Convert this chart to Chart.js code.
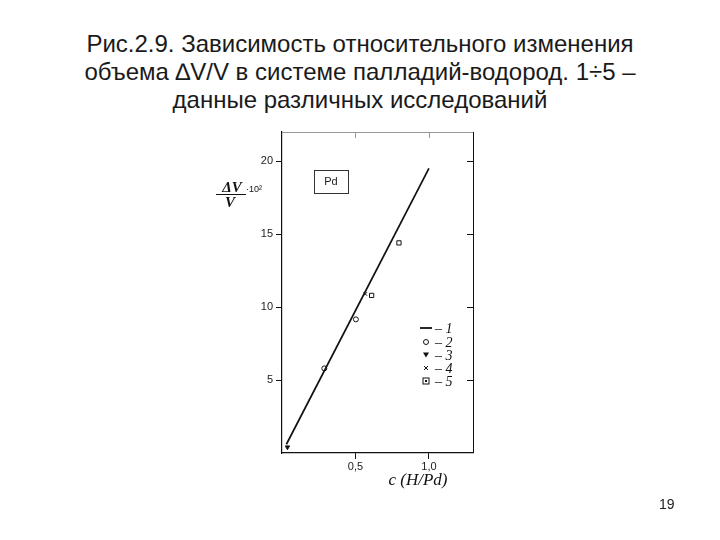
<!DOCTYPE html>
<html>
<head>
<meta charset="utf-8">
<script src="https://cdn.jsdelivr.net/npm/chart.js@4.4.1/dist/chart.umd.min.js"></script>
<style>
  html, body { margin: 0; padding: 0; background: #fff; }
  #wrap { position: relative; width: 720px; height: 540px; overflow: hidden; }
  #title {
    position: absolute; left: 0; top: 30px; width: 720px;
    text-align: center; font-family: "Liberation Sans", Arial, sans-serif;
    font-size: 24px; line-height: 28px; color: #1a1a1a;
  }
  #page {
    position: absolute; left: 659px; top: 496px;
    font-family: "Liberation Sans", Arial, sans-serif; font-size: 14px; color: #222;
  }
  canvas { position: absolute; left: 0; top: 0; }
</style>
</head>
<body>
<div id="wrap">
  <div id="title">Рис.2.9. Зависимость относительного изменения<br>объема ∆V/V в системе палладий-водород. 1÷5 –<br>данные различных исследований</div>
  <canvas id="chart" width="720" height="540"></canvas>
  <div id="page">19</div>
</div>
<script>
// fitted line (series 1)
const lineC = [0.03, 1.0];
const lineV = [0.6, 19.5];
// measured points, series 2..5
const c2 = [0.288, 0.503];
const v2 = [5.8, 9.16];
const c3 = [0.037];
const v3 = [0.4];
const c4 = [0.567];
const v4 = [10.9];
const c5 = [0.61, 0.796];
const v5 = [10.8, 14.4];
// axis ticks
const xTicks = [0.5, 1.0];
const yTicks = [5, 10, 15, 20];
const legendLabels = ['– 1', '– 2', '– 3', '– 4', '– 5'];

function pts(xs, ys) {
  return xs.map((x, i) => ({ x: x, y: ys[i] }));
}

function marker(ctx, style, x, y) {
  ctx.save();
  ctx.strokeStyle = '#111';
  ctx.fillStyle = '#111';
  ctx.lineWidth = 1;
  ctx.beginPath();
  if (style === 'line') {
    ctx.lineWidth = 1.8;
    ctx.moveTo(x - 6, y); ctx.lineTo(x + 6, y); ctx.stroke();
  } else if (style === 'circle') {
    ctx.arc(x, y, 2.5, 0, Math.PI * 2); ctx.stroke();
  } else if (style === 'triangle') {
    ctx.moveTo(x - 3, y - 2.5); ctx.lineTo(x + 3, y - 2.5); ctx.lineTo(x, y + 2.5);
    ctx.closePath(); ctx.fill();
  } else if (style === 'crossRot') {
    ctx.moveTo(x - 2, y - 2); ctx.lineTo(x + 2, y + 2);
    ctx.moveTo(x + 2, y - 2); ctx.lineTo(x - 2, y + 2); ctx.stroke();
  } else if (style === 'rect') {
    ctx.strokeRect(x - 3, y - 3, 6, 6);
    ctx.fillRect(x - 1, y - 1, 2, 2);
  }
  ctx.restore();
}

const decorations = {
  id: 'decorations',
  afterDraw(chart) {
    const ctx = chart.ctx;
    const a = chart.chartArea;
    const xs = chart.scales.x, ys = chart.scales.y;
    ctx.save();

    // frame: right side and faint top
    ctx.strokeStyle = '#111';
    ctx.lineWidth = 1;
    ctx.beginPath();
    ctx.moveTo(a.right + 0.5, a.top); ctx.lineTo(a.right + 0.5, a.bottom);
    ctx.stroke();
    yTicks.forEach(v => {
      const py = Math.round(ys.getPixelForValue(v)) + 0.5;
      ctx.beginPath(); ctx.moveTo(a.right - 6, py); ctx.lineTo(a.right, py); ctx.stroke();
    });
    ctx.strokeStyle = '#999';
    ctx.beginPath();
    ctx.moveTo(a.left, a.top + 0.5); ctx.lineTo(a.right, a.top + 0.5);
    ctx.stroke();
    xTicks.forEach(v => {
      const px = Math.round(xs.getPixelForValue(v)) + 0.5;
      ctx.beginPath(); ctx.moveTo(px, a.top); ctx.lineTo(px, a.top + 6); ctx.stroke();
    });

    // Pd box
    ctx.strokeStyle = '#333';
    ctx.strokeRect(a.left + 32.5, a.top + 38.5, 34, 23);
    ctx.fillStyle = '#222';
    ctx.font = '11px "Liberation Sans", Arial, sans-serif';
    ctx.textAlign = 'center';
    ctx.textBaseline = 'middle';
    ctx.fillText('Pd', a.left + 49, a.top + 50);

    // y axis title: ΔV / V · 10²
    ctx.fillStyle = '#111';
    ctx.textBaseline = 'alphabetic';
    ctx.font = 'italic bold 15px "Liberation Serif", "DejaVu Serif", serif';
    ctx.fillText('ΔV', a.left - 50, a.top + 60);
    ctx.fillText('V', a.left - 52, a.top + 75);
    ctx.beginPath();
    ctx.strokeStyle = '#111';
    ctx.moveTo(a.left - 66, a.top + 62.5); ctx.lineTo(a.left - 36, a.top + 62.5);
    ctx.stroke();
    ctx.textAlign = 'left';
    ctx.font = '9px "Liberation Sans", Arial, sans-serif';
    ctx.fillText('·10²', a.left - 36, a.top + 60);

    // x axis title
    ctx.textAlign = 'center';
    ctx.font = 'italic 17px "Liberation Serif", "DejaVu Serif", serif';
    ctx.fillText('c (H/Pd)', a.left + 136, a.bottom + 32);

    // legend
    const styles = ['line', 'circle', 'triangle', 'crossRot', 'rect'];
    const rowY = [196, 210, 223, 236, 249];
    ctx.textAlign = 'left';
    ctx.textBaseline = 'middle';
    ctx.font = 'italic 14px "Liberation Serif", "DejaVu Serif", serif';
    styles.forEach((s, i) => {
      const y = a.top + rowY[i];
      marker(ctx, s, a.right - 47, y);
      ctx.fillStyle = '#111';
      ctx.fillText(legendLabels[i], a.right - 38, y + 1);
    });
    ctx.restore();
  }
};

const tickFont = { family: '"Liberation Sans", Arial, sans-serif', size: 11 };

new Chart(document.getElementById('chart'), {
  type: 'scatter',
  data: {
    datasets: [
      { data: pts(lineC, lineV), showLine: true, borderColor: '#111', borderWidth: 1.7, pointRadius: 0 },
      { data: pts(c2, v2), pointStyle: 'circle', pointRadius: 2.5, borderColor: '#111', backgroundColor: 'rgba(0,0,0,0)', borderWidth: 1 },
      { data: pts(c3, v3), pointStyle: 'triangle', rotation: 180, pointRadius: 2.5, borderColor: '#111', backgroundColor: '#111', borderWidth: 1 },
      { data: pts(c4, v4), pointStyle: 'crossRot', pointRadius: 2.5, borderColor: '#111', borderWidth: 1 },
      { data: pts(c5, v5), pointStyle: 'rect', pointRadius: 3, borderColor: '#111', backgroundColor: 'rgba(0,0,0,0)', borderWidth: 1 }
    ]
  },
  options: {
    responsive: false,
    animation: false,
    events: [],
    layout: { padding: { left: 0, top: 132, right: 247, bottom: 47 } },
    plugins: {
      legend: { display: false },
      title: { display: false },
      tooltip: { enabled: false }
    },
    scales: {
      x: {
        type: 'linear',
        min: 0,
        max: 1.3,
        afterBuildTicks: scale => { scale.ticks = xTicks.map(v => ({ value: v })); },
        afterFit: scale => { scale.height = 40; },
        ticks: {
          color: '#222',
          font: tickFont,
          padding: 1,
          maxRotation: 0,
          callback: v => v.toFixed(1).replace('.', ',')
        },
        grid: { drawOnChartArea: false, color: '#111', tickLength: 6 },
        border: { color: '#111', width: 1.2 }
      },
      y: {
        type: 'linear',
        min: 0,
        max: 22,
        afterBuildTicks: scale => { scale.ticks = yTicks.map(v => ({ value: v })); },
        afterFit: scale => { scale.width = 282; },
        ticks: { color: '#222', font: tickFont, padding: 3 },
        grid: { drawOnChartArea: false, color: '#111', tickLength: 6 },
        border: { color: '#111', width: 1.2 }
      }
    }
  },
  plugins: [decorations]
});
</script>
</body>
</html>
